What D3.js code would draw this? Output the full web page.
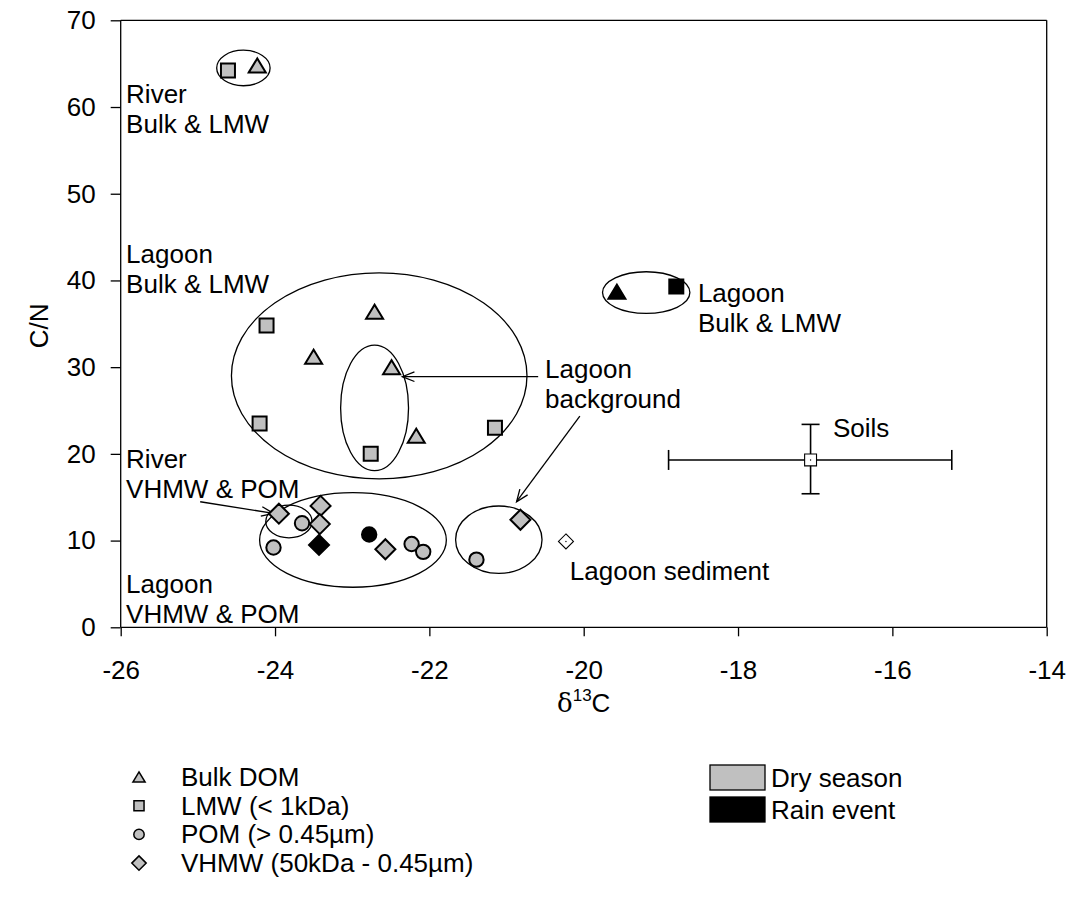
<!DOCTYPE html>
<html>
<head>
<meta charset="utf-8">
<script src="https://cdn.jsdelivr.net/npm/d3@7"></script>
<style>
  html, body { margin: 0; padding: 0; background: #fff; }
  svg { display: block; }
  text { font-family: "Liberation Sans", Arial, sans-serif; fill: #000; }
</style>
</head>
<body>
<svg id="chart" width="1074" height="913"></svg>
<script>
// ---- data: δ13C (x) and C/N (y) per fraction ----
const xTicks = [-26, -24, -22, -20, -18, -16, -14];
const yTicks = [0, 10, 20, 30, 40, 50, 60, 70];

// Dry season
const bulkDryX = [-24.23, -22.71, -23.50, -22.49, -22.17];
const bulkDryY = [64.8, 36.4, 31.2, 30.0, 22.1];
const lmwDryX = [-24.61, -24.11, -24.20, -21.15, -22.76];
const lmwDryY = [64.2, 34.8, 23.5, 23.0, 20.0];
const pomDryX = [-23.65, -24.02, -22.23, -22.08, -21.39];
const pomDryY = [12.0, 9.2, 9.6, 8.7, 7.8];
const vhmwDryX = [-23.95, -23.41, -23.42, -22.57, -20.82];
const vhmwDryY = [13.1, 14.0, 11.9, 9.0, 12.4];

// Rain event
const bulkRainX = [-19.57];
const bulkRainY = [38.7];
const lmwRainX = [-18.80];
const lmwRainY = [39.3];
const pomRainX = [-22.78];
const pomRainY = [10.7];
const vhmwRainX = [-23.43];
const vhmwRainY = [9.5];

// Lagoon sediment
const sedimentX = [-20.23];
const sedimentY = [9.9];

// Soils: mean with ranges
const soilsMean = [-17.06, 19.3];
const soilsXRange = [-18.90, -15.23];
const soilsYRange = [15.4, 23.4];

// Grouping ellipses: [cx, cy, rx, ry] in data units
const groupEllipses = [
  [-24.41, 64.5, 0.346, 2.05],
  [-22.65, 29.0, 1.915, 11.88],
  [-22.71, 25.3, 0.44, 7.24],
  [-19.19, 38.6, 0.566, 2.4],
  [-23.82, 12.2, 0.30, 1.88],
  [-22.99, 10.07, 1.21, 5.45],
  [-21.10, 10.1, 0.56, 3.89]
];

// Pointer arrows: [x1, y1, x2, y2] in data units (tip at x2, y2)
const pointerArrows = [
  [-20.59, 28.9, -22.35, 28.9],
  [-20.05, 24.36, -20.87, 14.48],
  [-24.97, 14.48, -24.02, 13.14]
];

// Group labels: [x, y of first baseline, line spacing px, lines]
const groupLabels = [
  [-25.93, 60.45, 30, ["River", "Bulk & LMW"]],
  [-25.93, 42.0, 30, ["Lagoon", "Bulk & LMW"]],
  [-18.52, 37.5, 30, ["Lagoon", "Bulk & LMW"]],
  [-20.50, 28.75, 30, ["Lagoon", "background"]],
  [-16.77, 21.95, 30, ["Soils"]],
  [-25.93, 18.37, 30, ["River", "VHMW & POM"]],
  [-25.93, 3.96, 30, ["Lagoon", "VHMW & POM"]],
  [-20.18, 5.45, 30, ["Lagoon sediment"]]
];

const shapeNames = ["Bulk DOM", "LMW (< 1kDa)", "POM (> 0.45µm)", "VHMW (50kDa - 0.45µm)"];
const seasonNames = ["Dry season", "Rain event"];

// ---- layout ----
const svg = d3.select("#chart");
const plotLeft = 120.7, plotRight = 1046.7, plotTop = 20.3, plotBottom = 627.3;
const FS = "26px";

const x = d3.scaleLinear().domain([-26, -14]).range([plotLeft, plotRight]);
const y = d3.scaleLinear().domain([0, 70]).range([plotBottom, plotTop]);

const GRAY = "#c0c0c0";

// Marker path generators (centred at 0,0)
function markerPath(kind, s) {
  switch (kind) {
    case "tri": {
      const w = 8.5 * s, h = 7 * s;
      return `M${-w},${h}L0,${-h}L${w},${h}Z`;
    }
    case "sq": {
      const a = 7 * s;
      return `M${-a},${-a}H${a}V${a}H${-a}Z`;
    }
    case "circ": {
      const r = 7.2 * s;
      return `M${r},0A${r},${r} 0 1,1 ${-r},0A${r},${r} 0 1,1 ${r},0Z`;
    }
    case "dia": {
      const d = 10 * s;
      return `M0,${-d}L${d},0L0,${d}L${-d},0Z`;
    }
  }
}

// ---- frame & axes ----
const frame = svg.append("g").attr("stroke", "#000").attr("stroke-width", 1.3).attr("fill", "none");
frame.append("line").attr("x1", plotLeft).attr("x2", plotRight).attr("y1", plotTop).attr("y2", plotTop);
frame.append("line").attr("x1", plotRight).attr("x2", plotRight).attr("y1", plotTop).attr("y2", plotBottom);

const plainNum = d => String(d);
const xAxis = d3.axisBottom(x).tickValues(xTicks).tickSize(9).tickPadding(24).tickFormat(plainNum);
const yAxis = d3.axisLeft(y).tickValues(yTicks).tickSize(10).tickPadding(15).tickFormat(plainNum);

const gx = svg.append("g").attr("transform", `translate(0,${plotBottom})`).call(xAxis);
const gy = svg.append("g").attr("transform", `translate(${plotLeft},0)`).call(yAxis);
[gx, gy].forEach(g => {
  g.select(".domain").attr("stroke", "#000").attr("stroke-width", 1.3);
  g.selectAll(".tick line").attr("stroke", "#000").attr("stroke-width", 1.3);
  g.selectAll(".tick text")
    .attr("fill", "#000")
    .style("font-family", '"Liberation Sans", Arial, sans-serif')
    .style("font-size", FS);
});
gx.select(".domain").attr("d", `M${plotLeft},0H${plotRight}`);
gy.select(".domain").attr("d", `M0,${plotBottom}V${plotTop}`);

// Axis titles
svg.append("text")
  .attr("transform", `translate(48,${(plotTop + plotBottom) / 2 + 2}) rotate(-90)`)
  .attr("text-anchor", "middle")
  .style("font-size", FS)
  .text("C/N");

const xt = svg.append("text")
  .attr("x", (plotLeft + plotRight) / 2)
  .attr("y", 712)
  .attr("text-anchor", "middle")
  .style("font-size", FS);
xt.append("tspan").style("font-family", '"DejaVu Serif", serif').text("δ");
xt.append("tspan").attr("dy", -11).style("font-size", "17px").text("13");
xt.append("tspan").attr("dy", 11).text("C");

// ---- grouping ellipses ----
svg.append("g").selectAll("ellipse")
  .data(groupEllipses)
  .join("ellipse")
  .attr("cx", d => x(d[0]))
  .attr("cy", d => y(d[1]))
  .attr("rx", d => x(d[0] + d[2]) - x(d[0]))
  .attr("ry", d => y(d[1] - d[3]) - y(d[1]))
  .attr("fill", "none")
  .attr("stroke", "#000")
  .attr("stroke-width", 1.3);

// ---- pointer arrows (open heads) ----
const arrowG = svg.append("g").attr("stroke", "#000").attr("stroke-width", 1.3).attr("fill", "none");
pointerArrows.forEach(a => {
  const x1 = x(a[0]), y1 = y(a[1]), x2 = x(a[2]), y2 = y(a[3]);
  const ang = Math.atan2(y2 - y1, x2 - x1);
  const L = 13, spread = 0.38;
  arrowG.append("line").attr("x1", x1).attr("y1", y1).attr("x2", x2).attr("y2", y2);
  arrowG.append("path").attr("d",
    `M${x2 - L * Math.cos(ang - spread)},${y2 - L * Math.sin(ang - spread)}` +
    `L${x2},${y2}` +
    `L${x2 - L * Math.cos(ang + spread)},${y2 - L * Math.sin(ang + spread)}`);
});

// ---- soils error bars ----
const soilG = svg.append("g").attr("stroke", "#000").attr("stroke-width", 1.6).attr("fill", "none");
const sx = x(soilsMean[0]), sy = y(soilsMean[1]);
soilG.append("line").attr("x1", x(soilsXRange[0])).attr("x2", x(soilsXRange[1])).attr("y1", sy).attr("y2", sy);
soilG.append("line").attr("x1", sx).attr("x2", sx).attr("y1", y(soilsYRange[0])).attr("y2", y(soilsYRange[1]));
soilsXRange.forEach(v => soilG.append("line").attr("x1", x(v)).attr("x2", x(v)).attr("y1", sy - 10).attr("y2", sy + 10));
soilsYRange.forEach(v => soilG.append("line").attr("x1", sx - 9).attr("x2", sx + 9).attr("y1", y(v)).attr("y2", y(v)));
svg.append("path").attr("transform", `translate(${sx},${sy})`)
  .attr("d", markerPath("sq", 0.85)).attr("fill", "#fff").attr("stroke", "#000").attr("stroke-width", 1.1);
svg.append("circle").attr("cx", sx).attr("cy", sy).attr("r", 0.7).attr("fill", "#000");

// ---- data markers ----
const series = [
  [bulkDryX, bulkDryY, "tri", GRAY],
  [lmwDryX, lmwDryY, "sq", GRAY],
  [pomDryX, pomDryY, "circ", GRAY],
  [vhmwDryX, vhmwDryY, "dia", GRAY],
  [bulkRainX, bulkRainY, "tri", "#000"],
  [lmwRainX, lmwRainY, "sq", "#000"],
  [pomRainX, pomRainY, "circ", "#000"],
  [vhmwRainX, vhmwRainY, "dia", "#000"]
];
const markG = svg.append("g");
series.forEach(([xs, ys, kind, fill]) => {
  markG.append("g").selectAll("path")
    .data(xs.map((v, i) => [v, ys[i]]))
    .join("path")
    .attr("transform", d => `translate(${x(d[0])},${y(d[1])})`)
    .attr("d", markerPath(kind, 1))
    .attr("fill", fill)
    .attr("stroke", "#000")
    .attr("stroke-width", 2)
    .attr("stroke-linejoin", "miter");
});

// Lagoon sediment (open diamond)
const sedPts = sedimentX.map((v, i) => [v, sedimentY[i]]);
markG.append("g").selectAll("path")
  .data(sedPts)
  .join("path")
  .attr("transform", d => `translate(${x(d[0])},${y(d[1])})`)
  .attr("d", markerPath("dia", 0.75))
  .attr("fill", "#fff").attr("stroke", "#000").attr("stroke-width", 1.1);
markG.append("g").selectAll("circle")
  .data(sedPts)
  .join("circle")
  .attr("cx", d => x(d[0])).attr("cy", d => y(d[1])).attr("r", 0.7).attr("fill", "#000");

// ---- group labels ----
const labG = svg.append("g");
groupLabels.forEach(([lx, ly, gap, lines]) => {
  const t = labG.append("text").attr("x", x(lx)).attr("y", y(ly)).style("font-size", FS);
  lines.forEach((s, i) => t.append("tspan").attr("x", x(lx)).attr("dy", i === 0 ? 0 : gap).text(s));
});

// ---- legends ----
const shapeKinds = ["tri", "sq", "circ", "dia"];
const leg1 = svg.append("g");
shapeNames.forEach((name, i) => {
  const cy = 777 + i * 28.7;
  leg1.append("path").attr("transform", `translate(139,${cy})`)
    .attr("d", markerPath(shapeKinds[i], 0.72))
    .attr("fill", GRAY).attr("stroke", "#000").attr("stroke-width", 1.5);
  leg1.append("text").attr("x", 181).attr("y", cy + 9).style("font-size", FS).text(name);
});

const seasonFills = [GRAY, "#000"];
const leg2 = svg.append("g");
seasonNames.forEach((name, i) => {
  const ty = 765 + i * 32;
  leg2.append("rect").attr("x", 710).attr("y", ty).attr("width", 55).attr("height", 25)
    .attr("fill", seasonFills[i]).attr("stroke", "#000").attr("stroke-width", 1.3);
  leg2.append("text").attr("x", 771).attr("y", ty + 22).style("font-size", FS).text(name);
});
</script>
</body>
</html>
